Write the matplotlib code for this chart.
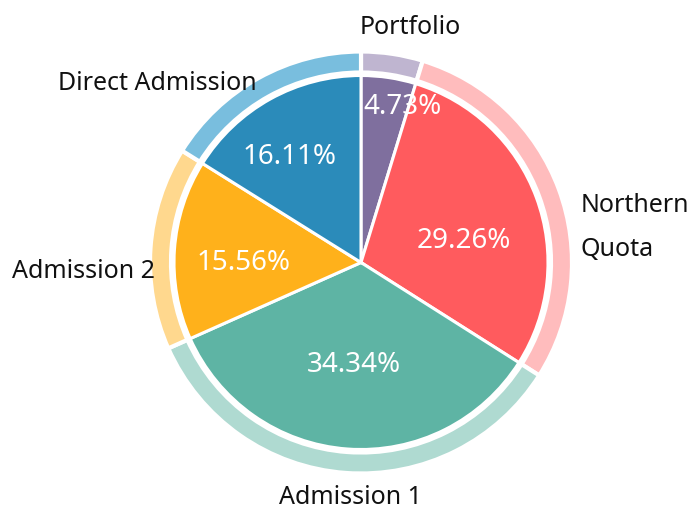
#!/usr/bin/env python3

import matplotlib
matplotlib.use("Agg")
import matplotlib.pyplot as plt

plt.rcParams['font.family'] = ['Noto Sans', 'DejaVu Sans']

# data, clockwise from the top
categories = ["Portfolio", "Northern\nQuota", "Admission 1", "Admission 2", "Direct Admission"]
shares = [4.73, 29.26, 34.34, 15.56, 16.11]
inner_colors = ["#7F6F9E", "#FF5B5E", "#5EB4A4", "#FFB11B", "#2B8BBA"]
outer_colors = ["#BFB5D0", "#FFBCBD", "#AFDAD1", "#FFD88E", "#79BEDE"]

# layout in pixel units (y measured upward)
W, H = 689, 510
cx, cy = 361, H - 263.5
r_outer, ring_w = 211, 21
r_inner = 187

fig = plt.figure(figsize=(W / 100, H / 100), dpi=100)
ax = fig.add_axes([0, 0, 1, 1])

# outer light ring
ax.pie(shares, radius=r_outer, center=(cx, cy), startangle=90, counterclock=False,
       colors=outer_colors, frame=True,
       wedgeprops=dict(width=ring_w, edgecolor='white', linewidth=3))

# inner pie with percentages
wedges, _, pcts = ax.pie(shares, radius=r_inner, center=(cx, cy), startangle=90,
                         counterclock=False, colors=inner_colors, frame=True,
                         autopct='%.2f%%', pctdistance=0.6,
                         wedgeprops=dict(edgecolor='white', linewidth=2.2),
                         textprops=dict(color='white', fontsize=20))
ax.set_xlim(0, W)
ax.set_ylim(0, H)
ax.set_aspect('equal')
ax.axis('off')

# percentage label offsets from the centre, as placed in the original
pct_offsets = [(42, 157), (103, 23), (-7, -101), (-117, 0), (-71, 107)]
for t, (dx, dy) in zip(pcts, pct_offsets):
    t.set_position((cx + dx, cy + dy))

# outside category labels
label_pos = [
    (410, H - 27, 'center'),
    (581, H - 228, 'left'),
    (350, H - 498, 'center'),
    (155, H - 271, 'right'),
    (257, H - 83, 'right'),
]
for name, (x, y, ha) in zip(categories, label_pos):
    ax.text(x, y, name, ha=ha, va='center', fontsize=18, color='#111111',
            linespacing=2.0)

fig.savefig("out.png", dpi=100)
